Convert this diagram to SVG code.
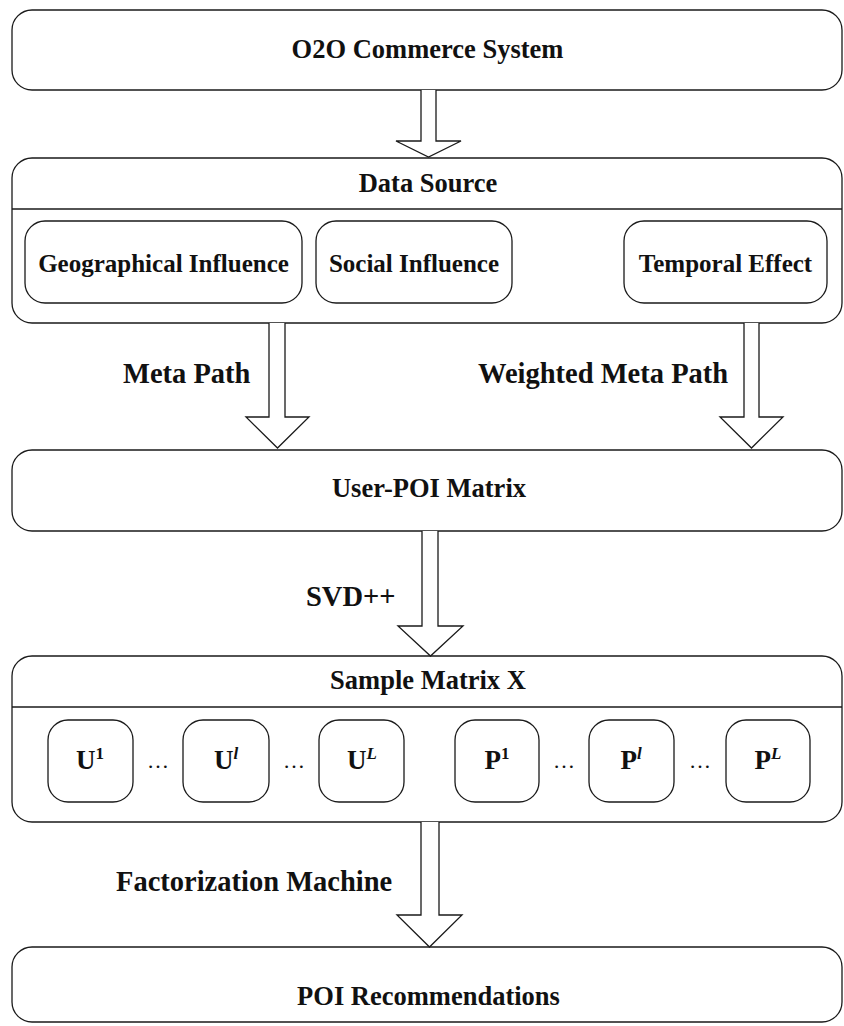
<svg xmlns="http://www.w3.org/2000/svg" width="844" height="1026" viewBox="0 0 844 1026">
<style>
.box{fill:#fff;stroke:#1a1a1a;stroke-width:1.3}
.ln{stroke:#1a1a1a;stroke-width:1.3;fill:none}
.arr{fill:#fff;stroke:#1a1a1a;stroke-width:1.3;stroke-linejoin:miter}
text{font-family:"Liberation Serif","Times New Roman",serif;font-weight:bold;fill:#111}
.t{font-size:26.5px;text-anchor:middle}
.s{font-size:25px;text-anchor:middle}
.m{font-size:27px;text-anchor:middle}
.lbl{font-size:28.5px}
.sup{font-size:17px}
.dot{font-size:22px;font-weight:normal;text-anchor:middle}
</style>
<rect width="844" height="1026" fill="#fff"/>
<g id="o2o">
<rect class="box" x="12" y="10" width="830" height="80" rx="20"/>
<text class="t" x="427.5" y="58">O2O Commerce System</text>
</g>
<g id="datasource">
<rect class="box" x="12" y="158" width="830" height="165" rx="20"/>
<line class="ln" x1="12" y1="209" x2="842" y2="209"/>
<text class="t" x="428" y="192">Data Source</text>
</g>
<g id="geo">
<rect class="box" x="25" y="221" width="277" height="82" rx="20"/>
<text class="s" x="163.5" y="272">Geographical Influence</text>
</g>
<g id="social">
<rect class="box" x="316" y="221" width="196" height="82" rx="20"/>
<text class="s" x="414" y="272">Social Influence</text>
</g>
<g id="temporal">
<rect class="box" x="624" y="221" width="203" height="82" rx="20"/>
<text class="s" x="725.5" y="272">Temporal Effect</text>
</g>
<g id="userpoi">
<rect class="box" x="12" y="450" width="830" height="81" rx="20"/>
<text class="t" x="429" y="497">User-POI Matrix</text>
</g>
<g id="sample">
<rect class="box" x="12" y="656" width="830" height="166" rx="20"/>
<line class="ln" x1="12" y1="707" x2="842" y2="707"/>
<text class="t" x="428" y="689">Sample Matrix X</text>
</g>
<g id="u1">
<rect class="box" x="48" y="720" width="85" height="82" rx="20"/>
<text class="m" x="90" y="769">U<tspan class="sup" dy="-10">1</tspan></text>
</g>
<g id="ul">
<rect class="box" x="183" y="720" width="86" height="82" rx="20"/>
<text class="m" x="226" y="769">U<tspan class="sup" dy="-10" font-style="italic">l</tspan></text>
</g>
<g id="uL">
<rect class="box" x="319" y="720" width="85" height="82" rx="20"/>
<text class="m" x="362" y="769">U<tspan class="sup" dy="-10" font-style="italic">L</tspan></text>
</g>
<g id="p1">
<rect class="box" x="455" y="720" width="84" height="82" rx="20"/>
<text class="m" x="497" y="769">P<tspan class="sup" dy="-10">1</tspan></text>
</g>
<g id="pl">
<rect class="box" x="589" y="720" width="85" height="82" rx="20"/>
<text class="m" x="631" y="769">P<tspan class="sup" dy="-10" font-style="italic">l</tspan></text>
</g>
<g id="pL">
<rect class="box" x="726" y="720" width="84" height="82" rx="20"/>
<text class="m" x="768" y="769">P<tspan class="sup" dy="-10" font-style="italic">L</tspan></text>
</g>
<g id="dots">
<text class="dot" x="158" y="768">…</text>
<text class="dot" x="294" y="768">…</text>
<text class="dot" x="564" y="768">…</text>
<text class="dot" x="700" y="768">…</text>
</g>
<g id="poirec">
<rect class="box" x="12" y="947" width="830" height="75" rx="20"/>
<text class="t" x="428.5" y="1005">POI Recommendations</text>
</g>
<g id="connectors">
<path class="arr" d="M421,90 V141 H396 L428.5,157 L461,141 H436 V90"/>
<path class="arr" d="M269,323 V417 H246 L277.5,448 L309,417 H285 V323"/>
<path class="arr" d="M744,323 V417 H720 L751.5,448 L783,417 H759 V323"/>
<path class="arr" d="M422,531 V626 H398 L430.5,656 L463,626 H438 V531"/>
<path class="arr" d="M421,822 V915 H397 L429.5,947 L462,915 H439 V822"/>
<text class="lbl" x="123" y="383">Meta Path</text>
<text class="lbl" x="478" y="383">Weighted Meta Path</text>
<text class="lbl" x="306" y="606">SVD++</text>
<text class="lbl" x="116" y="891">Factorization Machine</text>
</g>
</svg>
